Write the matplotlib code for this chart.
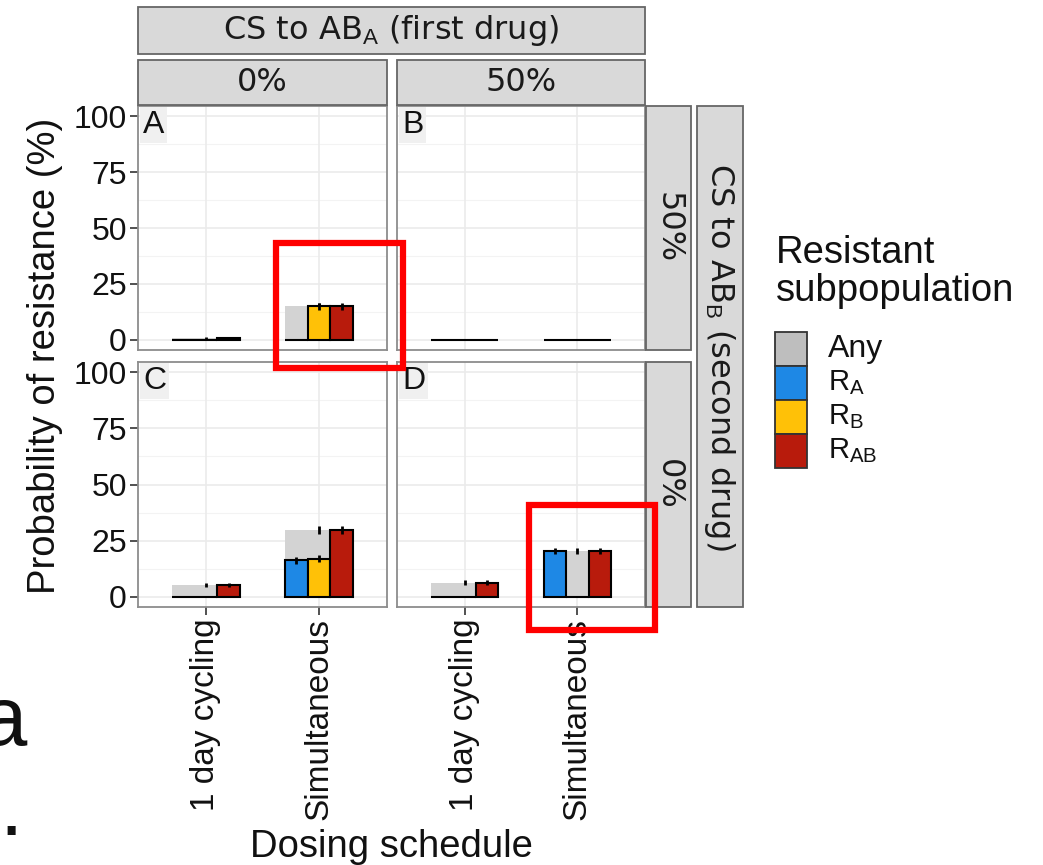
import matplotlib
matplotlib.use('Agg')
import matplotlib.pyplot as plt
from matplotlib.patches import Rectangle

plt.rcParams['font.family'] = ['Liberation Sans', 'DejaVu Sans']
plt.rcParams['mathtext.fontset'] = 'custom'
plt.rcParams['mathtext.rm'] = 'Liberation Sans'
plt.rcParams['mathtext.it'] = 'Liberation Sans:italic'

# data (percent), panels A, B, C, D ; each row = [1 day cycling, Simultaneous]
schedules = ['1 day cycling', 'Simultaneous']
panel_tags = ['A', 'B', 'C', 'D']
any_pct = [[0.8, 15.0], [0.0, 0.0], [5.5, 29.8], [6.4, 20.4]]
any_err = [[0.4, 1.6], [0.0, 0.0], [0.9, 1.8], [0.9, 1.5]]
ra_pct = [[0.0, 0.0], [0.0, 0.0], [0.0, 16.2], [0.0, 20.4]]
ra_err = [[0.0, 0.0], [0.0, 0.0], [0.0, 1.5], [0.0, 1.5]]
rb_pct = [[0.0, 15.0], [0.0, 0.0], [0.0, 17.0], [0.0, 0.0]]
rb_err = [[0.0, 1.6], [0.0, 0.0], [0.0, 1.5], [0.0, 0.0]]
rab_pct = [[0.8, 15.0], [0.0, 0.0], [5.5, 29.8], [6.4, 20.4]]
rab_err = [[0.4, 1.6], [0.0, 0.0], [0.9, 1.8], [0.9, 1.5]]

legend_labels = ['Any', 'R$_\\mathrm{A}$', 'R$_\\mathrm{B}$', 'R$_\\mathrm{AB}$']
legend_colors = ['#BEBEBE', '#1E88E5', '#FFC107', '#B81B0C']
any_fill = '#D3D3D3'

col_strips = ['0%', '50%']
row_strips = ['50%', '0%']
col_title = 'CS to AB$_\\mathrm{A}$ (first drug)'
row_title = 'CS to AB$_\\mathrm{B}$ (second drug)'

W, H = 1043, 865
fig = plt.figure(figsize=(W / 100, H / 100), dpi=100)


def px_axes(x0, y0, x1, y1, **kw):
    return fig.add_axes([x0 / W, 1 - y1 / H, (x1 - x0) / W, (y1 - y0) / H], **kw)


panel_px = [(138, 106, 387, 350), (397, 106, 645, 350),
            (138, 362, 387, 607), (397, 362, 645, 607)]
sub_sets = [(ra_pct, ra_err, 1, -0.2), (rb_pct, rb_err, 2, 0.0), (rab_pct, rab_err, 3, 0.2)]
xs = [1, 2]

for i, box in enumerate(panel_px):
    ax = px_axes(*box)
    ax.set_xlim(0.4, 2.6)
    ax.set_ylim(-4.5, 104.5)
    for y in [12.5, 37.5, 62.5, 87.5]:
        ax.axhline(y, color='#F3F3F3', lw=0.8, zorder=0)
    for y in [0, 25, 50, 75, 100]:
        ax.axhline(y, color='#EBEBEB', lw=1.2, zorder=0)
    for x in xs:
        ax.axvline(x, color='#EBEBEB', lw=1.2, zorder=0)

    ax.bar(xs, any_pct[i], width=0.6, color=any_fill, edgecolor='none', zorder=2)
    for x, v, e in zip(xs, any_pct[i], any_err[i]):
        if e > 0:
            ax.vlines(x, v - e, v + e, color='black', lw=2, zorder=2.5)
    for vals, errs, ci, off in sub_sets:
        pos = [x + off for x in xs]
        ax.bar(pos, vals[i], width=0.2, color=legend_colors[ci],
               edgecolor='black', lw=1.5, zorder=3)
        for x, v, e in zip(pos, vals[i], errs[i]):
            if e > 0:
                ax.vlines(x, v - e, v + e, color='black', lw=2, zorder=4)

    for s in ax.spines.values():
        s.set_color('#8C8C8C')
        s.set_linewidth(1.3)
    ax.set_yticks([0, 25, 50, 75, 100])
    ax.set_xticks(xs)
    ax.tick_params(colors='#333333', length=6, width=1.2, labelcolor='#111111')
    if i in (0, 2):
        ax.set_yticklabels(['0', '25', '50', '75', '100'], fontsize=23)
        ax.tick_params(axis='y', pad=2)
    else:
        ax.tick_params(axis='y', length=0, labelleft=False)
    if i in (2, 3):
        ax.set_xticklabels(schedules, rotation=90, fontsize=24, va='top')
        ax.tick_params(axis='x', pad=2)
    else:
        ax.tick_params(axis='x', length=0, labelbottom=False)
    ax.text(0.02, 0.985, panel_tags[i], transform=ax.transAxes, ha='left', va='top',
            fontsize=23, color='#111111', zorder=5,
            bbox=dict(facecolor='#F0F0F0', edgecolor='none', pad=2))

# overlay in pixel coordinates for strips, legend, annotations
ov = fig.add_axes([0, 0, 1, 1], zorder=10)
ov.set_xlim(0, W)
ov.set_ylim(H, 0)
ov.axis('off')
ov.patch.set_alpha(0)


def strip(x0, y0, x1, y1, label, rot=0):
    ov.add_patch(Rectangle((x0, y0), x1 - x0, y1 - y0, facecolor='#D9D9D9',
                           edgecolor='#666666', lw=1.3))
    ov.text((x0 + x1) / 2, (y0 + y1) / 2, label, rotation=rot, ha='center', va='center',
            fontsize=23, family='DejaVu Sans', color='#1a1a1a')


strip(138, 7, 645, 54, col_title)
strip(138, 60, 387, 105, col_strips[0])
strip(397, 60, 645, 105, col_strips[1])
strip(646, 106, 691, 350, row_strips[0], rot=-90)
strip(646, 362, 691, 607, row_strips[1], rot=-90)
strip(697, 106, 743, 607, row_title, rot=-90)

ov.text(45, 356, 'Probability of resistance (%)', rotation=90, ha='center', va='center',
        fontsize=27.5, color='#111111')
ov.text(391, 847, 'Dosing schedule', ha='center', va='center', fontsize=27.5, color='#111111')

# legend
ov.text(776, 235, 'Resistant\nsubpopulation', ha='left', va='top', fontsize=27.5,
        linespacing=1.08, color='#111111')
for k, (lab, col) in enumerate(zip(legend_labels, legend_colors)):
    y0 = 332 + 34 * k
    ov.add_patch(Rectangle((775, y0), 32, 34, facecolor=col, edgecolor='#333333', lw=1.3))
    ov.text(828, y0 + 17, lab, ha='left', va='center',
            fontsize=23 if k == 0 else 21, color='#111111')

# red highlight boxes
ov.add_patch(Rectangle((276, 243), 127, 125, fill=False, edgecolor='#FF0000', lw=4.5))
ov.add_patch(Rectangle((529, 505), 126, 125, fill=False, edgecolor='#FF0000', lw=4.5))

# stray slide text behind the chart
ov.text(27, 745, 'a', ha='right', va='baseline', fontsize=60, color='#111111')
ov.text(11, 835, '.', ha='center', va='baseline', fontsize=60, color='#111111')

fig.savefig('out.png', dpi=100)
